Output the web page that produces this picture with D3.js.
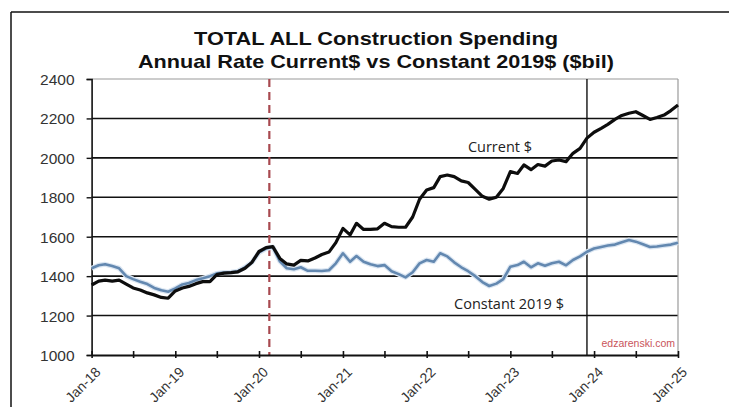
<!DOCTYPE html>
<html>
<head>
<meta charset="utf-8">
<script src="https://cdn.jsdelivr.net/npm/d3@7"></script>
<style>
  html, body { margin: 0; padding: 0; background: #fff; }
  svg { display: block; }
</style>
</head>
<body>
<svg id="chart" width="729" height="407"></svg>
<script>
// Monthly construction spending, seasonally adjusted annual rate ($ billions), Jan 2018 – Jan 2025
const startMonth = "2018-01";
const currentDollars = [
  1355, 1375, 1380, 1375, 1380, 1360, 1340, 1330, 1315, 1305, 1292, 1288,
  1325, 1340, 1348, 1362, 1372, 1372, 1408, 1415, 1418, 1422, 1440, 1470,
  1525, 1545, 1550, 1490, 1462, 1456, 1480, 1477, 1492, 1510, 1522, 1570,
  1642, 1609, 1668, 1637, 1637, 1640, 1668, 1651, 1648, 1648, 1700, 1790,
  1837, 1849, 1905, 1913, 1905, 1883, 1875, 1840, 1805, 1790, 1800, 1845,
  1930, 1921, 1964, 1940, 1966, 1958, 1984, 1989, 1981, 2023, 2048, 2100,
  2130, 2150, 2170, 2195, 2215, 2226, 2234, 2215, 2195, 2205, 2217, 2240,
  2268
];
const constant2019Dollars = [
  1440, 1455, 1460, 1451, 1440, 1400, 1385, 1372, 1360, 1340, 1328, 1321,
  1338, 1358, 1365, 1380, 1389, 1400, 1414, 1418, 1420, 1425, 1445, 1470,
  1520, 1540, 1548, 1475, 1440, 1435, 1445, 1427, 1427, 1426, 1430, 1465,
  1516, 1473, 1502, 1473, 1460, 1451, 1456, 1425, 1410, 1394, 1420, 1465,
  1482, 1473, 1516, 1500, 1470, 1445, 1425, 1400, 1370, 1350, 1362, 1385,
  1448, 1456, 1473, 1445, 1465, 1453, 1465, 1473, 1455, 1482, 1500, 1524,
  1540, 1548, 1555, 1560, 1572, 1583, 1575, 1562, 1548, 1550, 1555, 1560,
  1570
];
const yTicks = [1000, 1200, 1400, 1600, 1800, 2000, 2200, 2400];
const xTickLabels = ["Jan-18", "Jan-19", "Jan-20", "Jan-21", "Jan-22", "Jan-23", "Jan-24", "Jan-25"];
const covidMarker = "2020-02-15";
const latestYearMarker = "2023-12-01";
const titleLines = ["TOTAL ALL Construction Spending", "Annual Rate Current$ vs Constant 2019$ ($bil)"];

const parseMonth = d3.timeParse("%Y-%m");
const parseDay = d3.timeParse("%Y-%m-%d");
const start = parseMonth(startMonth);
const months = currentDollars.map((_, i) => d3.timeMonth.offset(start, i));

const svg = d3.select("#chart");
const plot = { left: 91.6, right: 678, top: 79, bottom: 355 };

const x = d3.scaleTime()
  .domain([parseMonth("2018-01"), parseMonth("2025-01")])
  .range([plot.left, plot.right]);
const y = d3.scaleLinear().domain([1000, 2400]).range([plot.bottom, plot.top]);

// outer frame
svg.append("line").attr("x1", 11).attr("x2", 11).attr("y1", 12).attr("y2", 407)
  .attr("stroke", "#111").attr("stroke-width", 1.5);
svg.append("line").attr("x1", 11).attr("x2", 729).attr("y1", 12).attr("y2", 12)
  .attr("stroke", "#111").attr("stroke-width", 1.5);

// title
svg.append("g").selectAll("text").data(titleLines).join("text")
  .attr("x", 376)
  .attr("y", (d, i) => 45 + i * 23)
  .attr("text-anchor", "middle")
  .attr("font-family", "Liberation Sans, Arial, sans-serif")
  .attr("font-weight", "bold")
  .attr("font-size", 18.5)
  .attr("fill", "#111")
  .attr("textLength", (d, i) => i === 0 ? 364 : 476)
  .attr("lengthAdjust", "spacingAndGlyphs")
  .text(d => d);

// horizontal gridlines
svg.append("g").selectAll("line").data(yTicks.filter(v => v > 1000)).join("line")
  .attr("x1", plot.left).attr("x2", plot.right)
  .attr("y1", d => y(d)).attr("y2", d => y(d))
  .attr("stroke", d => d === 2400 ? "#9a9a9a" : "#111")
  .attr("stroke-width", d => d === 2400 ? 1.2 : 1.6);

// right border of the plot area
svg.append("line").attr("x1", plot.right).attr("x2", plot.right)
  .attr("y1", plot.top).attr("y2", plot.bottom)
  .attr("stroke", "#9a9a9a").attr("stroke-width", 1.2);

// y axis
const yAxis = svg.append("g")
  .attr("transform", `translate(${plot.left},0)`)
  .call(d3.axisLeft(y).tickValues(yTicks).tickSize(5).tickPadding(12).tickFormat(d3.format("d")));
yAxis.select(".domain").attr("stroke", "#111").attr("stroke-width", 1.6);
yAxis.selectAll(".tick line").attr("stroke", "#111").attr("stroke-width", 1.4);
yAxis.selectAll("text")
  .attr("font-family", "Liberation Sans, Arial, sans-serif")
  .attr("font-size", 15.5).attr("fill", "#333")
  .attr("dy", "0.35em");

// vertical marker lines
svg.append("line")
  .attr("x1", x(parseDay(covidMarker))).attr("x2", x(parseDay(covidMarker)))
  .attr("y1", plot.top).attr("y2", plot.bottom)
  .attr("stroke", "#a8494f").attr("stroke-width", 2.2)
  .attr("stroke-dasharray", "8,5");
svg.append("line")
  .attr("x1", x(parseDay(latestYearMarker))).attr("x2", x(parseDay(latestYearMarker)))
  .attr("y1", plot.top).attr("y2", plot.bottom)
  .attr("stroke", "#111").attr("stroke-width", 1.4);

// x axis with half-year ticks
const halfYears = d3.timeMonth.every(6).range(parseMonth("2018-01"), parseMonth("2025-02"));
const xAxis = svg.append("g")
  .attr("transform", `translate(0,${plot.bottom})`)
  .call(d3.axisBottom(x).tickValues(halfYears).tickSize(0).tickFormat(""));
xAxis.select(".domain").attr("stroke", "#111").attr("stroke-width", 1.8);
xAxis.selectAll(".tick line").attr("y1", -4).attr("y2", 3)
  .attr("stroke", "#111").attr("stroke-width", 1.6);

const yearTicks = xTickLabels.map((_, i) => d3.timeYear.offset(parseMonth("2018-01"), i));
svg.append("g").selectAll("text").data(yearTicks).join("text")
  .attr("transform", d => `translate(${x(d) + 3},${plot.bottom + 11}) rotate(-45)`)
  .attr("text-anchor", "end")
  .attr("dy", "0.7em")
  .attr("font-family", "Liberation Sans, Arial, sans-serif")
  .attr("font-size", 14).attr("fill", "#333")
  .text((d, i) => xTickLabels[i]);

// series lines
const line = d3.line().x((d, i) => x(months[i])).y(d => y(d));
svg.append("path").datum(constant2019Dollars)
  .attr("d", line).attr("fill", "none")
  .attr("stroke", "#dbe6f2").attr("stroke-width", 5).attr("stroke-linejoin", "round");
svg.append("path").datum(constant2019Dollars)
  .attr("d", line).attr("fill", "none")
  .attr("stroke", "#6388b0").attr("stroke-width", 2.6).attr("stroke-linejoin", "round");
svg.append("path").datum(currentDollars)
  .attr("d", line).attr("fill", "none")
  .attr("stroke", "#0d0d0d").attr("stroke-width", 3.2).attr("stroke-linejoin", "round");

// series labels
svg.append("text").attr("x", 500).attr("y", 152)
  .attr("text-anchor", "middle")
  .attr("font-family", "Open Sans, sans-serif").attr("font-size", 14.5).attr("fill", "#222")
  .text("Current $");
svg.append("text").attr("x", 509).attr("y", 309)
  .attr("text-anchor", "middle")
  .attr("font-family", "Open Sans, sans-serif").attr("font-size", 14.5).attr("fill", "#222")
  .text("Constant 2019 $");

// source
svg.append("text").attr("x", 675).attr("y", 347)
  .attr("text-anchor", "end")
  .attr("font-family", "Liberation Sans, Arial, sans-serif").attr("font-size", 10.5)
  .attr("fill", "#c9545a")
  .text("edzarenski.com");
</script>
</body>
</html>
